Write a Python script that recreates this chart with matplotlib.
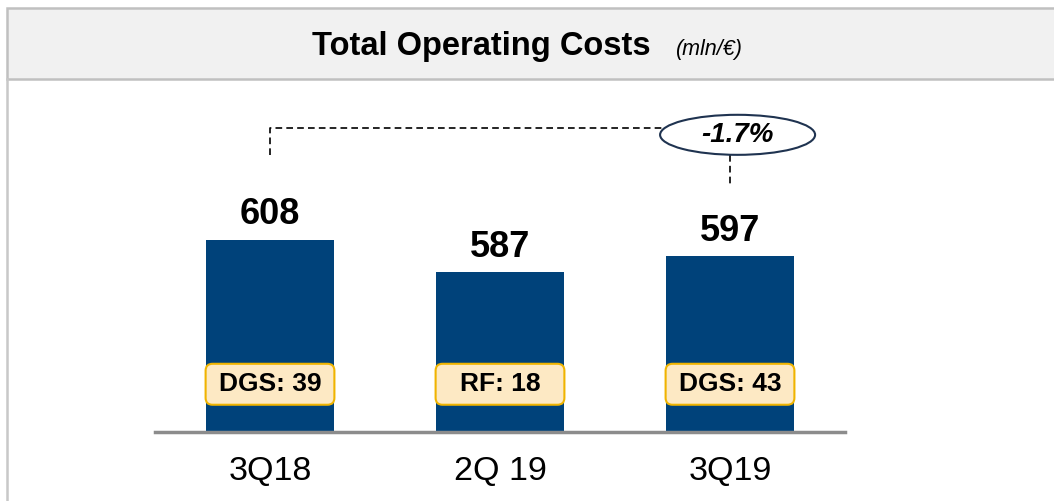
import matplotlib.pyplot as plt
from matplotlib.patches import Rectangle, Ellipse, FancyBboxPatch
from matplotlib.lines import Line2D

plt.rcParams['font.family'] = ['Liberation Sans', 'DejaVu Sans']

# data
quarters = ['3Q18', '2Q 19', '3Q19']
costs = [608, 587, 597]
box_labels = ['DGS: 39', 'RF: 18', 'DGS: 43']
change_label = '-1.7%'

bar_color = '#00427a'
W, H = 1054, 501
fig = plt.figure(figsize=(W / 100, H / 100), dpi=100)

# frame + header band
fig.add_artist(Rectangle((7 / W, 1 - 79 / H), 1.2, 71 / H, transform=fig.transFigure,
                         facecolor='#f1f1f1', edgecolor='#c0c0c0', lw=1.8))
fig.add_artist(Line2D([7 / W, 7 / W], [0, 1 - 79 / H], transform=fig.transFigure,
                      color='#c8c8c8', lw=1.8))
fig.text(481 / W, 1 - 46 / H, 'Total Operating Costs', ha='center', va='center',
         fontsize=23.5, fontweight='bold')
fig.text(676 / W, 1 - 49 / H, '(mln/€)', ha='left', va='center', fontsize=15.5, style='italic')

# main axes: x in category slots, y in mln
ax = fig.add_axes([155 / W, (H - 432) / H, 690 / W, 352 / H])
x = list(range(len(quarters)))
ax.bar(x, costs, width=0.56, color=bar_color, zorder=2)
ax.set_xlim(-0.5, 2.5)
ax.set_ylim(483, 711.6)
ax.set_xticks(x)
ax.set_xticklabels(quarters, fontsize=24.5)
ax.tick_params(axis='x', length=0, pad=17)
ax.set_yticks([])
for s in ['top', 'right', 'left']:
    ax.spines[s].set_visible(False)
ax.spines['bottom'].set_color('#8c8c8c')
ax.spines['bottom'].set_linewidth(2.5)
ax.spines['bottom'].set_zorder(3)

for xi, v in zip(x, costs):
    ax.annotate(str(v), (xi, v), xytext=(0, 11), textcoords='offset points',
                ha='center', va='baseline', fontsize=26, fontweight='bold')

# small boxes inside bars
box_y = 514
for xi, lab in zip(x, box_labels):
    ax.add_patch(FancyBboxPatch((xi - 0.28, box_y - 13.3), 0.56, 26.6,
                                boxstyle='round,pad=0,rounding_size=0.03',
                                mutation_aspect=150, facecolor='#fde9c4',
                                edgecolor='#f0b400', lw=1.5, zorder=4))
    ax.text(xi, box_y, lab, ha='center', va='center', fontsize=19,
            fontweight='bold', zorder=5)

# change bracket 3Q18 -> 3Q19
top_y = 680.5
ex, ey = 2.033, 676
dash = (0, (4, 2.5))
ax.plot([0, 0, ex], [663, top_y, top_y], color='black', lw=1.2, ls=dash,
        clip_on=False, zorder=5)
ax.plot([2, 2], [663, 643.5], color='black', lw=1.2, ls=dash, clip_on=False, zorder=5)
ax.add_patch(Ellipse((ex, ey), 0.674, 26, facecolor='white', edgecolor='#1f3350',
                     lw=1.5, clip_on=False, zorder=6))
ax.text(ex, ey, change_label, ha='center', va='center', fontsize=20,
        fontweight='bold', style='italic', zorder=7)

fig.savefig('out.png', dpi=100)
